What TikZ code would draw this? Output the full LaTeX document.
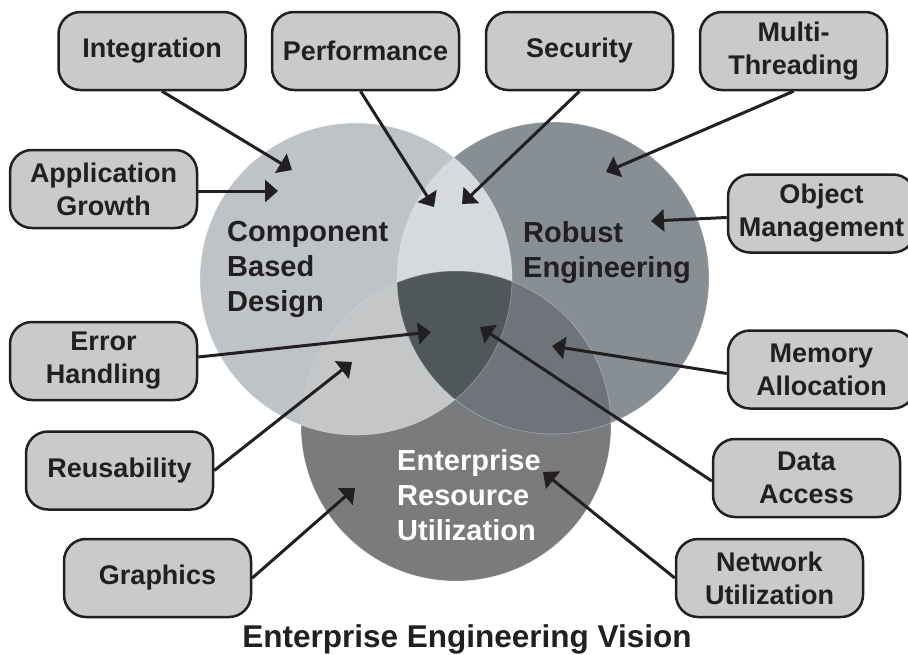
\documentclass[tikz,border=0pt]{standalone}
\usepackage{fontspec}
\setmainfont{Liberation Sans}
\usetikzlibrary{arrows.meta,calc}

\definecolor{ink}{HTML}{231F20}
\definecolor{boxfill}{HTML}{C9CACC}
\definecolor{fillA}{HTML}{BEC3C7}
\definecolor{fillB}{HTML}{878E94}
\definecolor{fillC}{HTML}{7A7B7D}
\definecolor{fillAB}{HTML}{D6D9DD}
\definecolor{fillAC}{HTML}{C5C6C8}
\definecolor{fillBC}{HTML}{6F747B}
\definecolor{fillABC}{HTML}{505759}

\tikzset{
  topic/.style={draw=ink, line width=2.5pt, fill=boxfill, rounded corners=22pt,
    minimum width=187pt, minimum height=78pt, inner sep=0pt, align=center,
    text=ink, font=\fontsize{27}{33}\selectfont\bfseries},
  arealabel/.style={anchor=north west, inner sep=0pt, align=left,
    font=\fontsize{29}{35}\selectfont\bfseries},
  pointer/.style={draw=ink, line width=3pt,
    -{Triangle[length=13pt,width=22pt]}},
  rim/.style={draw=white, draw opacity=0.35, line width=0.6pt}
}

\begin{document}
\begin{tikzpicture}[x=1pt,y=-1pt]
\useasboundingbox (0,0) rectangle (908,654);

% circle centres
\coordinate (cA) at (356,279);
\coordinate (cB) at (553,278);
\coordinate (cC) at (456,426);

% three overlapping areas
\fill[fillA] (cA) circle[radius=156pt];
\fill[fillB] (cB) circle[radius=156pt];
\fill[fillC] (cC) circle[radius=155pt];
\begin{scope}
  \clip (cA) circle[radius=156pt];
  \fill[fillAB] (cB) circle[radius=156pt];
  \fill[fillAC] (cC) circle[radius=155pt];
\end{scope}
\begin{scope}
  \clip (cB) circle[radius=156pt];
  \fill[fillBC] (cC) circle[radius=155pt];
  \clip (cA) circle[radius=156pt];
  \fill[fillABC] (cC) circle[radius=155pt];
\end{scope}
\draw[rim] (cA) circle[radius=156pt];
\draw[rim] (cB) circle[radius=156pt];
\draw[rim] (cC) circle[radius=155pt];

% area labels
\node[arealabel, text=ink] (lA) at (227,221) {Component\\Based\\Design};
\node[arealabel, text=ink] (lB) at (523,221) {Robust\\Engineering};
\node[arealabel, text=white] (lC) at (397,449) {Enterprise\\Resource\\Utilization};

% topic boxes
\node[topic] (int)   at (152,51)      {Integration};
\node[topic] (perf)  at (365.5,51)    {Performance};
\node[topic] (sec)   at (579.5,51)    {Security};
\node[topic] (mt)    at (793.5,51)    {Multi-\\Threading};
\node[topic] (app)   at (103.5,189)   {Application\\Growth};
\node[topic] (obj)   at (821.5,213.5) {Object\\Management};
\node[topic] (err)   at (103.5,361)   {Error\\Handling};
\node[topic] (mem)   at (821.5,369.5) {Memory\\Allocation};
\node[topic] (reuse) at (119.5,470.5) {Reusability};
\node[topic] (data)  at (806.5,478)   {Data\\Access};
\node[topic] (gfx)   at (157.5,578)   {Graphics};
\node[topic] (net)   at (769.5,578)   {Network\\Utilization};

% arrow targets
\coordinate (t1)  at (292,170);
\coordinate (t2)  at (434,207);
\coordinate (t3)  at (462,204);
\coordinate (t4)  at (606,172);
\coordinate (t5)  at (278,191);
\coordinate (t6)  at (651,221);
\coordinate (t7)  at (431,332);
\coordinate (t8)  at (552,346);
\coordinate (t9)  at (352,362);
\coordinate (t10) at (480,327);
\coordinate (t11) at (355,488);
\coordinate (t12) at (543,472);

% pointers
\draw[pointer] ($(int.south)+(10,0)$) -- (t1);
\draw[pointer] ($(perf.south)+(-5,0)$) -- (t2);
\draw[pointer] (sec.south) -- (t3);
\draw[pointer] (mt.south) -- (t4);
\draw[pointer] ($(app.east)+(0,2)$) -- (t5);
\draw[pointer] ($(obj.west)+(0,4)$) -- (t6);
\draw[pointer] ($(err.east)+(0,-4)$) -- (t7);
\draw[pointer] ($(mem.west)+(0,4)$) -- (t8);
\draw[pointer] (reuse.east) -- (t9);
\draw[pointer] ($(data.west)+(0,3)$) -- (t10);
\draw[pointer] (gfx.east) -- (t11);
\draw[pointer] (net.west) -- (t12);

% caption
\node[anchor=base, inner sep=0pt, text=ink,
  font=\fontsize{31.5}{36}\selectfont\bfseries] (title) at (467,647)
  {Enterprise Engineering Vision};
\end{tikzpicture}
\end{document}
